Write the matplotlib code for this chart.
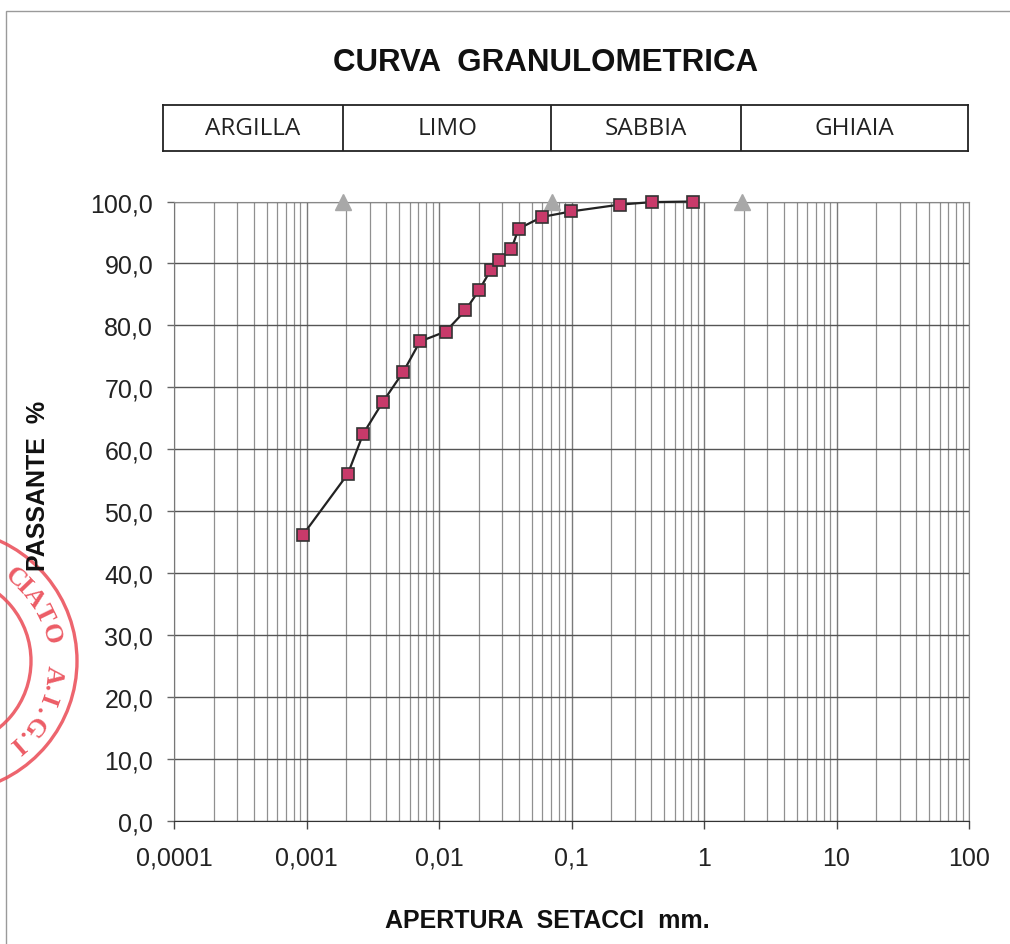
"""Curva granulometrica: passing percentage against sieve opening (log scale)."""

import numpy as np
import matplotlib

matplotlib.use("Agg")

import matplotlib.pyplot as plt
from matplotlib.patches import Arc, Rectangle
from matplotlib.ticker import FixedLocator, LogLocator, NullFormatter

# --- data ------------------------------------------------------------------
apertura_mm = [
    0.000936, 0.00205, 0.00268, 0.00376, 0.00538, 0.00719, 0.01124, 0.0158,
    0.0201, 0.0245, 0.0285, 0.0351, 0.0399, 0.0598, 0.0995, 0.232, 0.403, 0.822,
]
passante_pct = [
    46.1, 56.0, 62.5, 67.6, 72.5, 77.4, 79.0, 82.4,
    85.7, 88.9, 90.6, 92.3, 95.6, 97.5, 98.4, 99.5, 99.9, 100.0,
]

limiti_mm = [0.0019, 0.071, 1.92]
limiti_y = [100.0, 100.0, 100.0]

classi = ["ARGILLA", "LIMO", "SABBIA", "GHIAIA"]
x_ticks = [0.0001, 0.001, 0.01, 0.1, 1, 10, 100]
x_labels = ["0,0001", "0,001", "0,01", "0,1", "1", "10", "100"]
y_ticks = np.arange(0, 101, 10)
y_labels = [f"{v:.1f}".replace(".", ",") for v in y_ticks]

stamp_text = "CIATO A.I.G.I"
stamp_angles = [50, 44, 36, 26, 15, 4, -7, -14, -20, -27, -36, -43, -49]

plt.rcParams["font.family"] = ["Liberation Sans", "DejaVu Sans"]

W, H = 1010, 945
fig = plt.figure(figsize=(W / 100, H / 100), dpi=100)


def fx(px):
    return px / W


def fy(py):
    return 1 - py / H


# outer frame of the scanned sheet
fig.patches.append(Rectangle((fx(6), fy(1010)), fx(1100), fy(12) - fy(1010),
                             transform=fig.transFigure, fill=False,
                             edgecolor="#9a9a9a", linewidth=1.0))

# --- main chart -------------------------------------------------------------
ax = fig.add_axes([fx(174), fy(821.7), fx(969) - fx(174), fy(202.5) - fy(821.7)])
ax.set_xscale("log")
ax.set_xlim(1e-4, 100)
ax.set_ylim(0, 100)

ax.xaxis.set_major_locator(FixedLocator(x_ticks))
ax.xaxis.set_minor_locator(LogLocator(base=10, subs=np.arange(2, 10)))
ax.xaxis.set_minor_formatter(NullFormatter())
ax.set_xticklabels(x_labels)
ax.set_yticks(y_ticks)
ax.set_yticklabels(y_labels)

ax.grid(which="major", axis="x", color="#7a7a7a", linewidth=1.0)
ax.grid(which="minor", axis="x", color="#909090", linewidth=0.9)
ax.grid(which="major", axis="y", color="#555555", linewidth=1.0)
ax.set_axisbelow(True)

ax.tick_params(axis="x", which="major", length=6, width=1, color="#444444",
               labelsize=18, pad=12, labelcolor="#222222")
ax.tick_params(axis="x", which="minor", length=0)
ax.tick_params(axis="y", length=5, width=1, color="#666666",
               labelsize=18, pad=10, labelcolor="#222222")

for side in ("top", "right"):
    ax.spines[side].set_color("#888888")
ax.spines["bottom"].set_color("#333333")
ax.spines["left"].set_color("#777777")

ax.plot(apertura_mm, passante_pct, color="#222222", linewidth=1.6,
        marker="s", markersize=8, markerfacecolor="#c83a6a",
        markeredgecolor="#333333", markeredgewidth=1.2, zorder=5, clip_on=False)
ax.plot(limiti_mm, limiti_y, linestyle="none", marker="^", markersize=12,
        color="#a8a8a8", zorder=4, clip_on=False)

fig.text(fx(547), fy(921), "APERTURA  SETACCI  mm.", ha="center", va="center",
         fontsize=18, fontweight="bold", color="#111111")
fig.text(fx(38), fy(486), "PASSANTE  %", ha="center", va="center",
         rotation=90, fontsize=18, fontweight="bold", color="#111111")

fig.text(fx(546), fy(63), "CURVA  GRANULOMETRICA", ha="center", va="center",
         fontsize=22.5, fontweight="bold", color="#111111")

# --- class header -------------------------------------------------------------
hx0, hx1 = 163, 968
hdr = fig.add_axes([fx(hx0), fy(152), fx(hx1) - fx(hx0), fy(106) - fy(152)])
hdr.set_xscale("log")
left_lim = 10 ** (-4 - (174 - hx0) / 132.5)
hdr.set_xlim(left_lim, 100)
hdr.set_ylim(0, 1)
hdr.set_xticks([])
hdr.set_yticks([])
hdr.minorticks_off()
for s in hdr.spines.values():
    s.set_color("#222222")
    s.set_linewidth(1.3)
edges = [left_lim] + limiti_mm + [100]
for b in limiti_mm:
    hdr.axvline(b, color="#222222", linewidth=1.3)
for name, a, b in zip(classi, edges[:-1], edges[1:]):
    hdr.text(np.sqrt(a * b), 0.5, name, ha="center", va="center",
             fontsize=17.5, family=["Open Sans", "DejaVu Sans"], color="#222222")

# --- red stamp partly visible at the left edge ------------------------------
cx, cy = -55, 662
for r in (132, 86):
    fig.patches.append(Arc((fx(cx), fy(cy)), 2 * r / W, 2 * r / H, theta1=-80,
                           theta2=80, transform=fig.transFigure,
                           color="#ea4a55", linewidth=2.4, alpha=0.85))
for ch, th in zip(stamp_text, stamp_angles):
    t = np.deg2rad(th)
    px = cx + 109 * np.cos(t)
    py = cy - 109 * np.sin(t)
    fig.text(fx(px), fy(py), ch, ha="center", va="center", rotation=th - 90,
             fontsize=19, fontweight="bold", family=["Liberation Serif"],
             color="#ea4a55", alpha=0.9)

fig.savefig("out.png", dpi=100)
